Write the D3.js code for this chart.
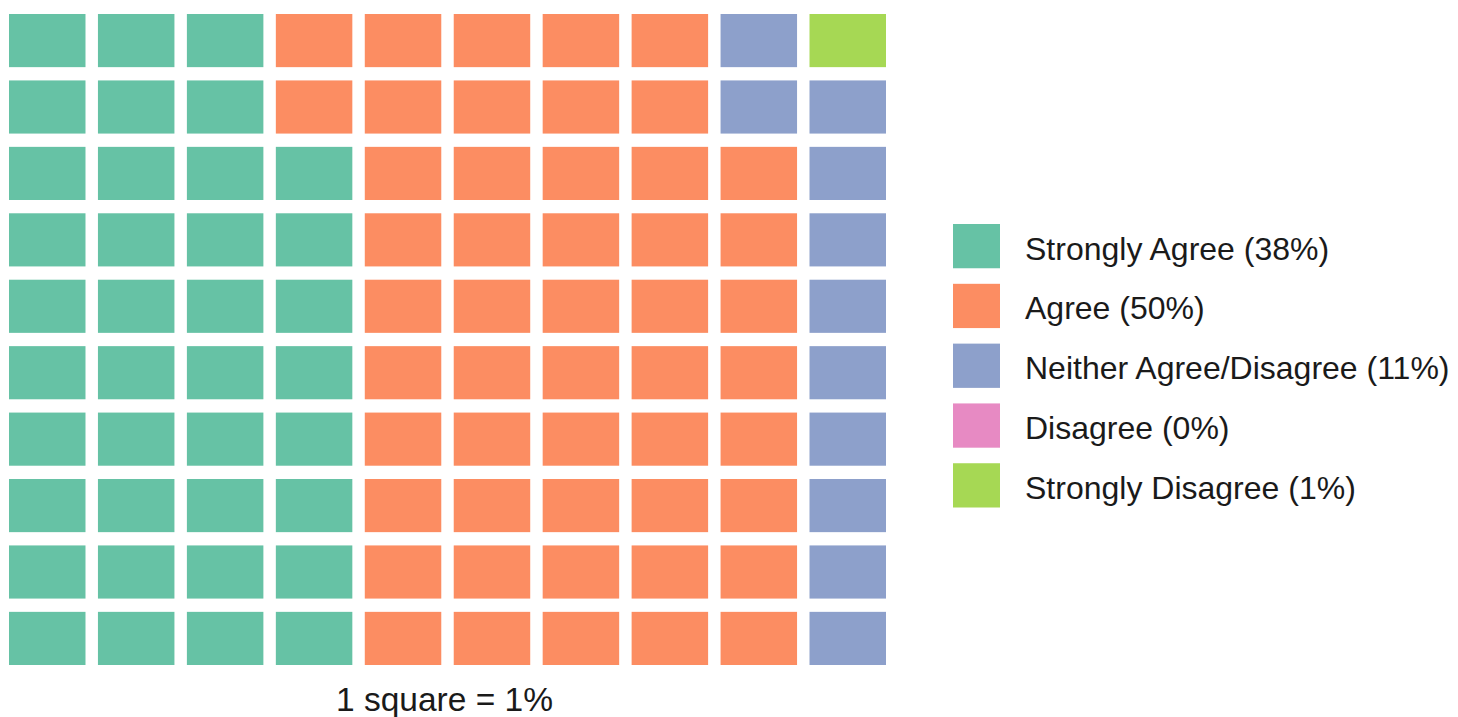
<!DOCTYPE html>
<html>
<head>
<meta charset="utf-8">
<script src="https://cdn.jsdelivr.net/npm/d3@7"></script>
<style>
  html, body { margin: 0; padding: 0; background: #ffffff; }
  svg { display: block; }
  text { font-family: "Liberation Sans", Arial, sans-serif; fill: #1a1a1a; }
</style>
</head>
<body>
<svg id="chart" width="1458" height="717"></svg>
<script>
// ---- data ----
const categories = ["Strongly Agree", "Agree", "Neither Agree/Disagree", "Disagree", "Strongly Disagree"];
const values = [38, 50, 11, 0, 1];
const colors = ["#66c2a5", "#fc8d62", "#8da0cb", "#e78ac3", "#a6d854"];
const nCols = 10;
const nRows = 10;
const caption = "1 square = 1%";

// ---- build cells: fill column by column, bottom to top ----
const cells = [];
let idx = 0;
categories.forEach((cat, ci) => {
  for (let k = 0; k < values[ci]; k++) {
    const col = Math.floor(idx / nRows);
    const rowFromBottom = idx % nRows;
    cells.push({ cat, ci, col, row: nRows - 1 - rowFromBottom });
    idx++;
  }
});

const svg = d3.select("#chart");

const x = d3.scaleBand().domain(d3.range(nCols)).range([9, 886]).paddingInner(0.14).paddingOuter(0);
const y = d3.scaleBand().domain(d3.range(nRows)).range([14, 665]).paddingInner(0.2).paddingOuter(0);
const color = d3.scaleOrdinal().domain(categories).range(colors);

svg.append("g")
  .selectAll("rect")
  .data(cells)
  .join("rect")
  .attr("x", d => x(d.col))
  .attr("y", d => y(d.row))
  .attr("width", x.bandwidth())
  .attr("height", y.bandwidth())
  .attr("fill", d => color(d.cat));

// caption
svg.append("text")
  .attr("x", (x.range()[0] + x.range()[1]) / 2 - 3)
  .attr("y", 711)
  .attr("text-anchor", "middle")
  .style("font-size", "33.5px")
  .text(caption);

// legend
const ly = d3.scaleBand().domain(categories).range([224, 507.5]).paddingInner(0.26).paddingOuter(0);
const legend = svg.append("g")
  .selectAll("g")
  .data(categories)
  .join("g")
  .attr("transform", d => `translate(0,${ly(d)})`);

legend.append("rect")
  .attr("x", 953)
  .attr("y", 0)
  .attr("width", 47)
  .attr("height", ly.bandwidth())
  .attr("fill", d => color(d));

legend.append("text")
  .attr("x", 1025)
  .attr("y", ly.bandwidth() / 2 + 13.5)
  .style("font-size", "32px")
  .text((d, i) => `${d} (${values[i]}%)`);
</script>
</body>
</html>
